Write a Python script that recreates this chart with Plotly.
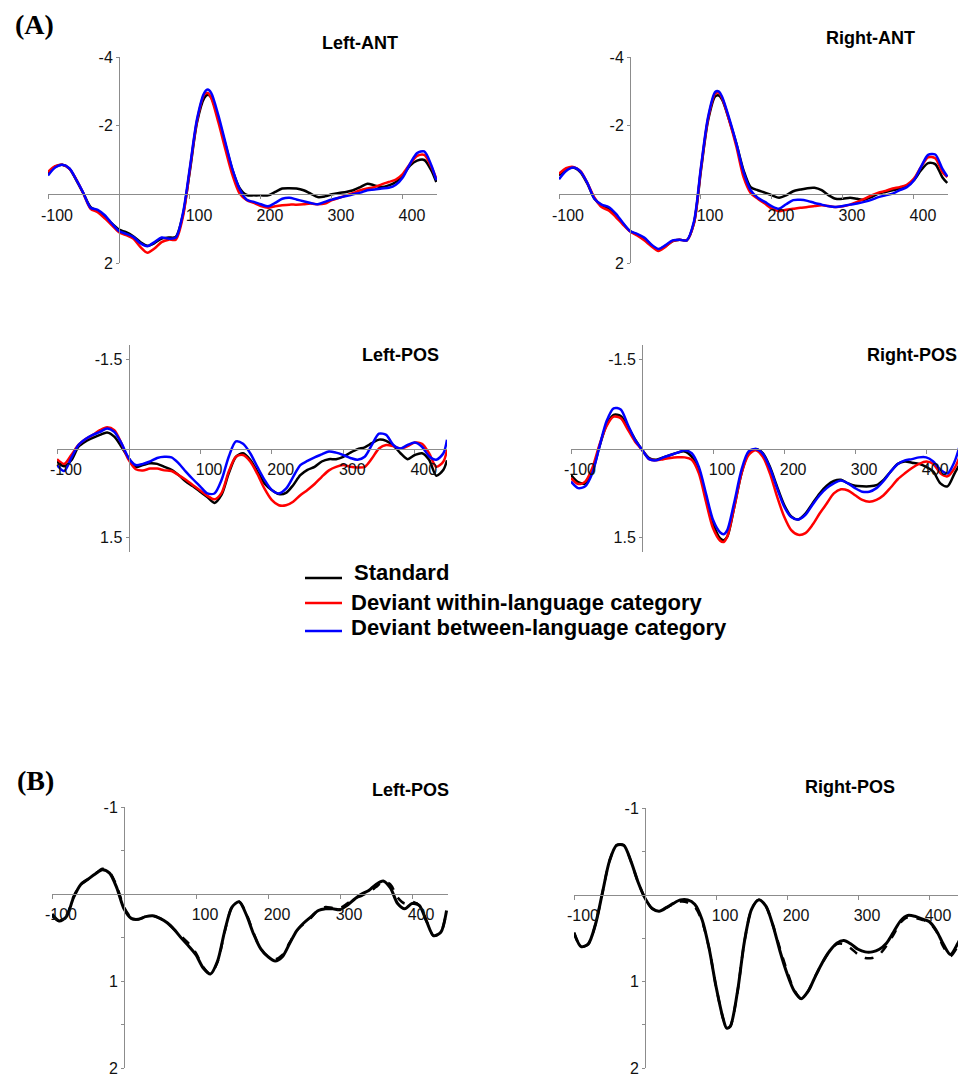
import plotly.graph_objects as go

# ---------------- data ----------------
# Panel A, anterior sites
t_ant = [-100, -90, -80, -70, -60, -50, -40, -30, -20, -10, 0, 10, 20, 30, 40, 50, 60, 70, 80, 90,
         100, 110, 120, 125, 130, 140, 150, 160, 170, 180, 190, 200, 210, 220, 230, 240, 250, 260,
         270, 280, 290, 300, 310, 320, 330, 340, 350, 360, 370, 380, 390, 400, 410, 420, 430, 440, 447]

lant_std = [-0.60, -0.80, -0.86, -0.75, -0.41, -0.02, 0.37, 0.49, 0.66, 0.85, 1.03, 1.10, 1.22, 1.39, 1.50,
            1.42, 1.29, 1.26, 1.24, 0.60, -0.70, -2.10, -2.80, -2.90, -2.82, -2.20, -1.45, -0.70, -0.18,
            0.02, 0.03, 0.03, 0.03, -0.07, -0.17, -0.18, -0.17, -0.12, -0.02, 0.08, 0.06, 0.00, -0.04,
            -0.07, -0.12, -0.21, -0.31, -0.26, -0.21, -0.26, -0.36, -0.55, -0.84, -0.98, -1.00, -0.70, -0.36]
lant_within = [-0.65, -0.82, -0.86, -0.75, -0.43, -0.02, 0.42, 0.52, 0.70, 0.90, 1.10, 1.19, 1.29, 1.53, 1.70,
               1.58, 1.39, 1.32, 1.32, 0.66, -0.75, -2.15, -2.90, -2.95, -2.80, -2.10, -1.30, -0.55, -0.02,
               0.17, 0.25, 0.34, 0.39, 0.35, 0.32, 0.30, 0.30, 0.29, 0.27, 0.29, 0.27, 0.17, 0.10,
               0.03, -0.04, -0.12, -0.17, -0.21, -0.29, -0.36, -0.43, -0.60, -0.89, -1.12, -1.15, -0.80, -0.46]
lant_between = [-0.55, -0.78, -0.86, -0.76, -0.42, -0.03, 0.39, 0.45, 0.61, 0.85, 1.07, 1.15, 1.24, 1.42, 1.51,
                1.39, 1.26, 1.29, 1.26, 0.56, -0.80, -2.20, -2.95, -3.05, -2.95, -2.30, -1.50, -0.72, -0.15,
                0.16, 0.22, 0.29, 0.35, 0.25, 0.13, 0.10, 0.15, 0.20, 0.25, 0.29, 0.22, 0.15, 0.10,
                0.05, 0.00, -0.05, -0.12, -0.14, -0.17, -0.19, -0.28, -0.50, -0.89, -1.20, -1.25, -0.85, -0.41]

rant_std = [-0.55, -0.72, -0.78, -0.65, -0.31, 0.13, 0.32, 0.42, 0.61, 0.85, 1.07, 1.17, 1.29, 1.48, 1.61,
            1.51, 1.36, 1.32, 1.34, 0.85, -0.70, -2.15, -2.85, -2.88, -2.75, -2.15, -1.47, -0.70, -0.21,
            -0.12, -0.05, 0.03, 0.10, 0.03, -0.09, -0.14, -0.18, -0.19, -0.12, 0.03, 0.13, 0.13, 0.10,
            0.13, 0.16, 0.08, -0.02, -0.07, -0.12, -0.17, -0.24, -0.41, -0.70, -0.91, -0.88, -0.50, -0.33]
rant_within = [-0.60, -0.76, -0.80, -0.68, -0.33, 0.10, 0.37, 0.47, 0.66, 0.88, 1.08, 1.20, 1.34, 1.51, 1.65,
               1.53, 1.36, 1.32, 1.34, 0.85, -0.75, -2.20, -2.93, -2.96, -2.79, -2.14, -1.38, -0.50, -0.04,
               0.13, 0.27, 0.42, 0.49, 0.45, 0.42, 0.39, 0.37, 0.34, 0.32, 0.34, 0.37, 0.35, 0.30,
               0.22, 0.13, 0.03, -0.05, -0.10, -0.17, -0.21, -0.28, -0.46, -0.80, -1.08, -1.05, -0.65, -0.50]
rant_between = [-0.44, -0.68, -0.78, -0.67, -0.33, 0.13, 0.30, 0.37, 0.56, 0.83, 1.07, 1.15, 1.26, 1.46, 1.59,
                1.48, 1.34, 1.32, 1.34, 0.80, -0.80, -2.25, -2.98, -3.00, -2.83, -2.20, -1.47, -0.65, -0.12,
                0.10, 0.22, 0.35, 0.42, 0.29, 0.17, 0.16, 0.19, 0.25, 0.30, 0.35, 0.37, 0.34, 0.30,
                0.27, 0.22, 0.16, 0.08, 0.03, -0.02, -0.12, -0.21, -0.41, -0.80, -1.15, -1.16, -0.75, -0.52]

# Panel A, posterior sites
t_lpos = [-100, -90, -80, -70, -60, -50, -40, -30, -20, -10, 0, 10, 20, 30, 40, 50, 60, 70, 80, 90,
          100, 110, 120, 130, 140, 150, 160, 170, 180, 190, 200, 210, 220, 230, 240, 250, 260, 270,
          280, 290, 300, 310, 320, 330, 340, 350, 360, 370, 380, 390, 400, 410, 420, 430, 440, 445]
lpos_std = [0.22, 0.30, 0.20, -0.03, -0.12, -0.18, -0.23, -0.27, -0.20, -0.03, 0.16, 0.31, 0.28, 0.25, 0.26,
            0.31, 0.36, 0.45, 0.56, 0.64, 0.73, 0.82, 0.92, 0.78, 0.42, 0.14, 0.08, 0.19, 0.39, 0.59, 0.70,
            0.77, 0.75, 0.62, 0.45, 0.36, 0.31, 0.22, 0.18, 0.18, 0.14, 0.07, 0.01, -0.02, -0.09, -0.15,
            -0.13, -0.05, 0.08, 0.18, 0.11, 0.08, 0.19, 0.46, 0.36, 0.20]
lpos_within = [0.18, 0.26, 0.11, -0.06, -0.16, -0.23, -0.31, -0.36, -0.31, -0.09, 0.19, 0.35, 0.37, 0.34, 0.34,
               0.37, 0.38, 0.45, 0.53, 0.62, 0.71, 0.80, 0.86, 0.75, 0.39, 0.14, 0.11, 0.22, 0.43, 0.68, 0.87,
               0.96, 0.96, 0.90, 0.79, 0.70, 0.60, 0.48, 0.37, 0.31, 0.28, 0.31, 0.32, 0.31, 0.17, 0.00,
               -0.06, -0.04, 0.00, -0.04, -0.10, -0.08, 0.08, 0.31, 0.22, 0.02]
lpos_between = [0.28, 0.38, 0.16, -0.06, -0.16, -0.23, -0.28, -0.34, -0.28, -0.09, 0.16, 0.28, 0.26, 0.22, 0.16,
                0.14, 0.15, 0.25, 0.39, 0.52, 0.64, 0.76, 0.76, 0.53, 0.14, -0.12, -0.08, 0.08, 0.31, 0.53, 0.70,
                0.76, 0.68, 0.48, 0.28, 0.21, 0.15, 0.10, 0.05, 0.07, 0.11, 0.16, 0.19, 0.14, -0.06, -0.25,
                -0.23, -0.06, 0.00, -0.06, -0.10, -0.03, 0.13, 0.19, 0.08, -0.15]

t_rpos = [-100, -90, -80, -70, -60, -50, -40, -30, -20, -10, 0, 10, 20, 30, 40, 50, 60, 70, 80, 90,
          100, 110, 115, 120, 130, 140, 150, 160, 170, 180, 190, 200, 210, 220, 230, 240, 250, 260, 270,
          280, 290, 300, 310, 320, 330, 340, 350, 360, 370, 380, 390, 400, 410, 420, 430, 440, 448]
rpos_std = [0.45, 0.57, 0.59, 0.39, -0.03, -0.40, -0.57, -0.55, -0.37, -0.16, 0.02, 0.16, 0.19, 0.15, 0.11,
            0.07, 0.05, 0.14, 0.36, 0.81, 1.27, 1.52, 1.55, 1.49, 0.98, 0.42, 0.08, 0.01, 0.08, 0.31, 0.64,
            0.95, 1.15, 1.20, 1.10, 0.93, 0.76, 0.63, 0.55, 0.53, 0.59, 0.63, 0.64, 0.64, 0.62, 0.53, 0.39,
            0.26, 0.22, 0.24, 0.26, 0.31, 0.39, 0.59, 0.64, 0.42, 0.25]
rpos_within = [0.50, 0.60, 0.56, 0.33, -0.06, -0.38, -0.54, -0.51, -0.32, -0.12, 0.02, 0.18, 0.20, 0.18, 0.16,
               0.15, 0.15, 0.19, 0.42, 0.90, 1.35, 1.56, 1.58, 1.49, 0.98, 0.42, 0.11, 0.03, 0.14, 0.42, 0.81,
               1.15, 1.38, 1.46, 1.43, 1.29, 1.10, 0.93, 0.76, 0.69, 0.71, 0.79, 0.87, 0.90, 0.87, 0.79, 0.66,
               0.52, 0.42, 0.33, 0.26, 0.22, 0.26, 0.42, 0.47, 0.33, 0.11]
rpos_between = [0.56, 0.67, 0.64, 0.42, -0.03, -0.46, -0.68, -0.66, -0.40, -0.15, 0.02, 0.18, 0.20, 0.15, 0.11,
                0.07, 0.03, 0.08, 0.31, 0.76, 1.21, 1.42, 1.45, 1.38, 0.90, 0.36, 0.05, 0.01, 0.09, 0.33, 0.67,
                0.98, 1.16, 1.20, 1.12, 0.95, 0.79, 0.67, 0.59, 0.54, 0.59, 0.67, 0.73, 0.73, 0.67, 0.55, 0.39,
                0.26, 0.20, 0.18, 0.15, 0.15, 0.22, 0.36, 0.42, 0.22, -0.08]

# Panel B, posterior sites (solid / dashed)
t_bl = [-100, -90, -80, -70, -60, -50, -40, -30, -20, -10, 0, 10, 20, 30, 40, 50, 60, 70, 80, 90,
        100, 110, 120, 130, 140, 150, 160, 170, 180, 190, 200, 210, 220, 230, 240, 250, 260, 270,
        280, 290, 300, 310, 320, 330, 340, 350, 360, 370, 380, 390, 400, 410, 420, 430, 440, 448]
bl_solid = [0.23, 0.31, 0.26, 0.04, -0.11, -0.17, -0.23, -0.28, -0.24, -0.07, 0.17, 0.28, 0.29, 0.26, 0.25,
            0.28, 0.33, 0.41, 0.51, 0.60, 0.70, 0.85, 0.92, 0.77, 0.42, 0.15, 0.09, 0.24, 0.46, 0.63, 0.72,
            0.77, 0.72, 0.57, 0.42, 0.33, 0.26, 0.19, 0.17, 0.17, 0.18, 0.13, 0.06, 0.00, -0.04, -0.11,
            -0.15, -0.07, 0.11, 0.17, 0.11, 0.13, 0.31, 0.48, 0.44, 0.19]
bl_dashed = [0.25, 0.31, 0.25, 0.03, -0.11, -0.17, -0.23, -0.29, -0.25, -0.09, 0.15, 0.27, 0.29, 0.26, 0.25,
             0.28, 0.33, 0.41, 0.49, 0.57, 0.68, 0.84, 0.92, 0.78, 0.43, 0.15, 0.09, 0.23, 0.45, 0.63, 0.72,
             0.75, 0.70, 0.56, 0.42, 0.34, 0.27, 0.18, 0.15, 0.16, 0.16, 0.11, 0.05, 0.02, -0.02, -0.08,
             -0.14, -0.11, 0.04, 0.11, 0.09, 0.13, 0.31, 0.48, 0.44, 0.19]

t_br = [-100, -90, -80, -70, -60, -50, -40, -30, -20, -10, 0, 10, 20, 30, 40, 50, 60, 70, 80, 90,
        100, 110, 115, 120, 130, 140, 150, 160, 170, 180, 190, 200, 210, 220, 230, 240, 250, 260, 270,
        280, 290, 300, 310, 320, 330, 340, 350, 360, 370, 380, 390, 400, 410, 420, 430, 440, 450]
br_solid = [0.44, 0.60, 0.57, 0.35, -0.02, -0.39, -0.57, -0.57, -0.39, -0.15, 0.04, 0.16, 0.19, 0.15, 0.10,
            0.06, 0.06, 0.11, 0.28, 0.61, 1.06, 1.43, 1.54, 1.52, 1.13, 0.54, 0.17, 0.06, 0.13, 0.35, 0.65,
            0.91, 1.11, 1.20, 1.11, 0.94, 0.78, 0.65, 0.56, 0.53, 0.57, 0.63, 0.66, 0.66, 0.63, 0.56, 0.43,
            0.30, 0.24, 0.25, 0.28, 0.31, 0.41, 0.57, 0.69, 0.57, 0.39]
br_dashed = [0.44, 0.60, 0.57, 0.35, -0.02, -0.39, -0.57, -0.57, -0.39, -0.15, 0.04, 0.16, 0.19, 0.15, 0.11,
             0.08, 0.09, 0.14, 0.30, 0.61, 1.06, 1.43, 1.54, 1.52, 1.13, 0.54, 0.17, 0.06, 0.13, 0.35, 0.62,
             0.88, 1.10, 1.20, 1.11, 0.94, 0.78, 0.65, 0.57, 0.57, 0.62, 0.69, 0.73, 0.73, 0.69, 0.59, 0.46,
             0.32, 0.26, 0.27, 0.29, 0.32, 0.42, 0.60, 0.71, 0.60, 0.42]

series_names = ["Standard", "Deviant within-language category", "Deviant between-language category"]
series_colors = ["#000000", "#ff0000", "#0000ff"]
x_ticks = [-100, 100, 200, 300, 400]

# ---------------- page geometry ----------------
# The page body keeps the browser's default 8 px margin, so the figure is 16 px
# smaller than the 966x1088 window and everything is placed in window pixels.
WIN_W, WIN_H, PAGE_MARGIN = 966, 1088, 8
FW, FH = WIN_W - 2 * PAGE_MARGIN, WIN_H - 2 * PAGE_MARGIN


def px_x(p):
    return (p - PAGE_MARGIN) / FW


def px_y(p):
    return 1 - (p - PAGE_MARGIN) / FH


def clamp_axis(lo_px, hi_px, r_lo, r_hi, size):
    """Map a pixel span (window pixels) to a paper domain, trimming at the figure edge
    while keeping the data scale."""
    a, b = lo_px - PAGE_MARGIN, hi_px - PAGE_MARGIN
    if b > size:
        r_hi = r_lo + (r_hi - r_lo) * (size - a) / (b - a)
        b = size
    return a / size, b / size, r_lo, r_hi


# panel geometry in window pixels: (left, right), x range, (top, bottom), y range [bottom, top]
panels = [
    dict(name="Left-ANT", xpx=(48, 437), xr=[-100, 448], ypx=(57, 263), yr=[2, -4],
         yt=[-4, -2, 2], ytt=["-4", "-2", "2"], title=(360, 43)),
    dict(name="Right-ANT", xpx=(559, 948), xr=[-100, 448], ypx=(57, 263), yr=[2, -4],
         yt=[-4, -2, 2], ytt=["-4", "-2", "2"], title=(870, 38)),
    dict(name="Left-POS", xpx=(57, 447), xr=[-100, 445], ypx=(345, 552), yr=[1.75, -1.75],
         yt=[-1.5, 1.5], ytt=["-1.5", "1.5"], title=(400, 355)),
    dict(name="Right-POS", xpx=(571, 961), xr=[-100, 449], ypx=(345, 552), yr=[1.75, -1.75],
         yt=[-1.5, 1.5], ytt=["-1.5", "1.5"], title=(912, 355)),
    dict(name="Left-POS", xpx=(52, 448), xr=[-100, 450], ypx=(807, 1068), yr=[2, -1],
         yt=[-1, -0.5, 0.5, 1, 1.5, 2], ytt=["-1", "", "", "1", "", "2"], title=(410, 790)),
    dict(name="Right-POS", xpx=(574, 966), xr=[-100, 452], ypx=(808, 1068), yr=[2, -1],
         yt=[-1, -0.5, 0.5, 1, 1.5, 2], ytt=["-1", "", "", "1", "", "2"], title=(850, 787)),
]

FONT = "Arial, Liberation Sans, sans-serif"
AXC = "#8c8c8c"

fig = go.Figure()

panel_data = [
    (t_ant, [lant_std, lant_within, lant_between]),
    (t_ant, [rant_std, rant_within, rant_between]),
    (t_lpos, [lpos_std, lpos_within, lpos_between]),
    (t_rpos, [rpos_std, rpos_within, rpos_between]),
]

for i, (tt, ys) in enumerate(panel_data):
    ax = "" if i == 0 else str(i + 1)
    for j, y in enumerate(ys):
        assert len(tt) == len(y), (i, j, len(tt), len(y))
        fig.add_trace(go.Scatter(
            x=tt, y=y, mode="lines", xaxis="x" + ax, yaxis="y" + ax,
            line=dict(color=series_colors[j], width=2.5, shape="spline", smoothing=0.8),
            name=series_names[j], showlegend=False, hoverinfo="skip"))

for i, (tt, solid, dashed) in enumerate([(t_bl, bl_solid, bl_dashed), (t_br, br_solid, br_dashed)]):
    ax = str(i + 5)
    assert len(tt) == len(solid) == len(dashed)
    fig.add_trace(go.Scatter(x=tt, y=dashed, mode="lines", xaxis="x" + ax, yaxis="y" + ax,
                             line=dict(color="#000000", width=2.5, dash="dash", shape="spline", smoothing=0.8),
                             showlegend=False, hoverinfo="skip"))
    fig.add_trace(go.Scatter(x=tt, y=solid, mode="lines", xaxis="x" + ax, yaxis="y" + ax,
                             line=dict(color="#000000", width=3, shape="spline", smoothing=0.8),
                             showlegend=False, hoverinfo="skip"))

layout = dict(
    width=FW, height=FH, autosize=False, margin=dict(l=0, r=0, t=0, b=0, autoexpand=False),
    paper_bgcolor="white", plot_bgcolor="rgba(0,0,0,0)",
    font=dict(family=FONT, color="#111111"),
    showlegend=False,
)

annotations = []
shapes = []
for i, p in enumerate(panels):
    ax = "" if i == 0 else str(i + 1)
    x0, x1, xr0, xr1 = clamp_axis(p["xpx"][0], p["xpx"][1], p["xr"][0], p["xr"][1], FW)
    yb = px_y(p["ypx"][1])
    ytp = px_y(p["ypx"][0])
    yr0, yr1 = p["yr"]
    fx = (0 - xr0) / (xr1 - xr0)
    fy = (0 - yr0) / (yr1 - yr0)
    layout["xaxis" + ax] = dict(
        domain=[x0, x1], range=[xr0, xr1], anchor="free", position=yb + fy * (ytp - yb),
        showline=True, linecolor=AXC, linewidth=1, showgrid=False, zeroline=False, automargin=False,
        ticks="outside", ticklen=4, tickcolor=AXC, tickwidth=1, ticklabeloverflow="allow",
        tickvals=x_ticks, ticktext=[str(v) for v in x_ticks], ticklabelshift=9, ticklabelstandoff=2,
        tickfont=dict(family=FONT, size=16, color="#111111"), fixedrange=True)
    layout["yaxis" + ax] = dict(
        domain=[yb, ytp], range=[yr0, yr1], anchor="free", position=x0 + fx * (x1 - x0),
        showline=True, linecolor=AXC, linewidth=1, showgrid=False, zeroline=False, automargin=False,
        ticks="outside", ticklen=3, tickcolor=AXC, tickwidth=1, ticklabeloverflow="allow",
        tickvals=p["yt"], ticktext=p["ytt"],
        tickfont=dict(family=FONT, size=16, color="#111111"), fixedrange=True)
    annotations.append(dict(text="<b>%s</b>" % p["name"], x=px_x(p["title"][0]), y=px_y(p["title"][1]),
                            xref="paper", yref="paper", xanchor="center", yanchor="middle",
                            showarrow=False, font=dict(family=FONT, size=18, color="#000000")))

for lbl, (lx, ly) in [("(A)", (34, 24)), ("(B)", (35, 780))]:
    annotations.append(dict(text="<b>%s</b>" % lbl, x=px_x(lx), y=px_y(ly), xref="paper", yref="paper",
                            xanchor="center", yanchor="middle", showarrow=False,
                            font=dict(family="Times New Roman, Liberation Serif, serif", size=28,
                                      color="#000000")))

# legend (key lines + labels, placed as in the original figure)
leg_line_y = [578, 603, 631]
leg_text_y = [572, 602, 627]
leg_text_x = [352, 349, 349]
for name, col, ly, ty, tx in zip(series_names, series_colors, leg_line_y, leg_text_y, leg_text_x):
    shapes.append(dict(type="line", xref="paper", yref="paper", x0=px_x(305), x1=px_x(342),
                       y0=px_y(ly), y1=px_y(ly), line=dict(color=col, width=2.5)))
    annotations.append(dict(text="<b>%s</b>" % name, x=px_x(tx), y=px_y(ty), xref="paper", yref="paper",
                            xanchor="left", yanchor="middle", showarrow=False,
                            font=dict(family=FONT, size=22, color="#000000")))

layout["annotations"] = annotations
layout["shapes"] = shapes
fig.update_layout(**layout)

fig.write_html("out.html", config={"displayModeBar": False, "staticPlot": True})
